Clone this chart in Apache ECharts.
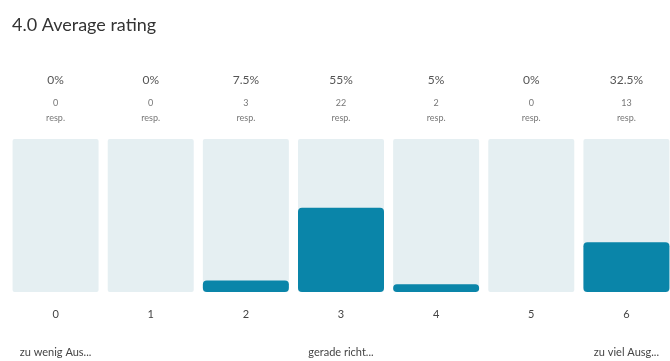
<!DOCTYPE html>
<html>
<head>
<meta charset="utf-8">
<script src="https://cdn.jsdelivr.net/npm/echarts@6/dist/echarts.min.js"></script>
<style>
  html, body { margin: 0; padding: 0; background: #ffffff; }
  #chart { width: 670px; height: 361px; }
</style>
</head>
<body>
<div id="chart"></div>
<script>
// Rating scale and answer distribution
const categories = ['0', '1', '2', '3', '4', '5', '6'];
const anchorLabels = ['zu wenig Aus...', '', '', 'gerade richt...', '', '', 'zu viel Ausg...'];
const percents = [0, 0, 7.5, 55, 5, 0, 32.5];
const counts = [0, 0, 3, 22, 2, 0, 13];
const fullScale = [100, 100, 100, 100, 100, 100, 100];

const chart = echarts.init(document.getElementById('chart'), null, { renderer: 'canvas' });
const font = 'Lato, "Noto Sans", sans-serif';

chart.setOption({
  animation: false,
  title: {
    text: '4.0 Average rating',
    left: 7,
    top: 11,
    textStyle: { fontFamily: font, fontSize: 18, fontWeight: 'normal', color: '#333333' }
  },
  grid: { left: 8, width: 666, top: 139, bottom: 69, outerBoundsMode: 'none', containLabel: false },
  xAxis: [
    {
      type: 'category',
      data: categories,
      axisLine: { show: false },
      axisTick: { show: false },
      axisLabel: { margin: 17, fontFamily: font, fontSize: 11, color: '#444444' }
    },
    {
      type: 'category',
      data: anchorLabels,
      position: 'bottom',
      offset: 38,
      axisLine: { show: false },
      axisTick: { show: false },
      axisLabel: { margin: 17, interval: 0, fontFamily: font, fontSize: 11, color: '#444444' }
    }
  ],
  yAxis: { type: 'value', min: 0, max: 100, show: false },
  series: [
    {
      type: 'bar',
      data: fullScale,
      barWidth: 86,
      barGap: '-100%',
      silent: true,
      itemStyle: { color: '#e5eff2', borderRadius: 2 },
      label: {
        show: true,
        position: 'top',
        distance: 13,
        fontFamily: font,
        formatter: p => '{p|' + percents[p.dataIndex] + '%}\n{c|' + counts[p.dataIndex] + '}\n{r|resp.}',
        rich: {
          p: { fontFamily: font, fontSize: 12, color: '#555555', lineHeight: 32 },
          c: { fontFamily: font, fontSize: 9, color: '#777777', lineHeight: 14 },
          r: { fontFamily: font, fontSize: 9, color: '#777777', lineHeight: 16 }
        }
      }
    },
    {
      type: 'bar',
      data: percents,
      barWidth: 86,
      itemStyle: { color: '#0a85a9', borderRadius: 4 }
    }
  ]
});
</script>
</body>
</html>
